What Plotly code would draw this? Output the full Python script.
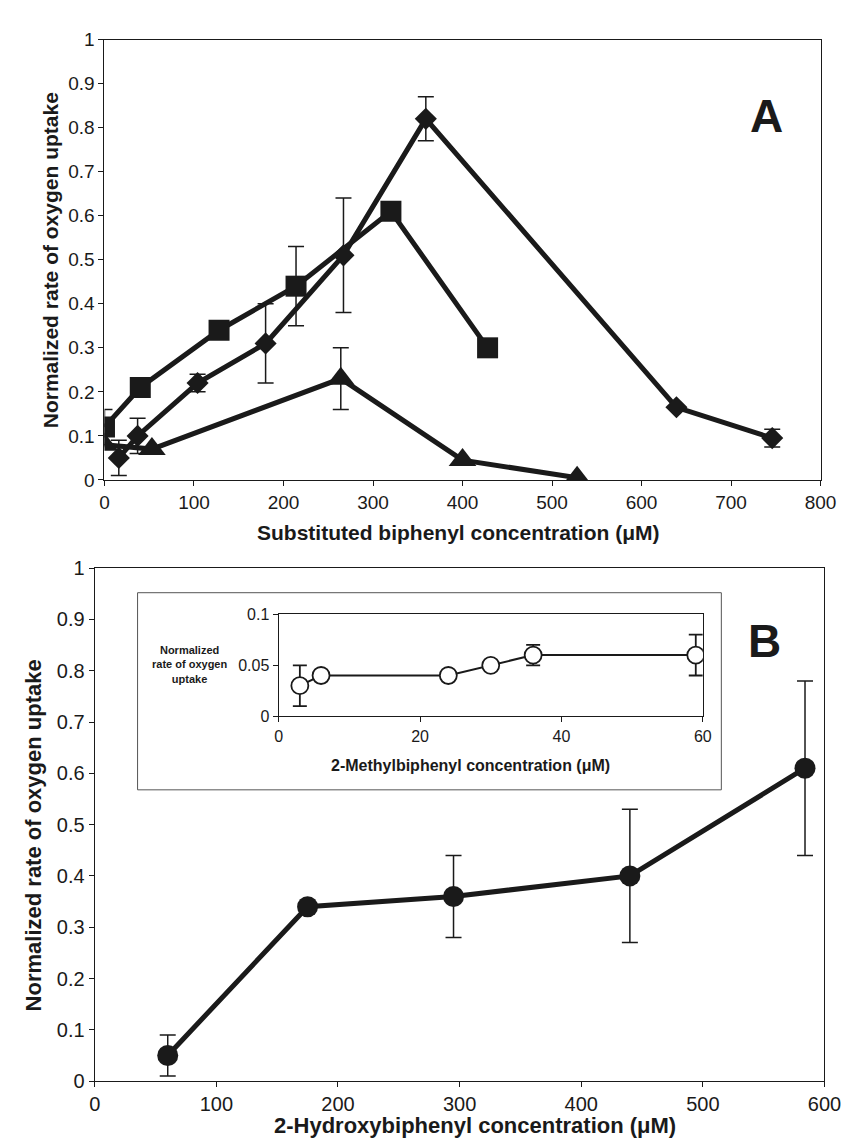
import plotly.graph_objects as go

# ---------------- Panel A data ----------------
sq_x = [0, 40, 128, 214, 320, 428]
sq_y = [0.12, 0.21, 0.34, 0.44, 0.61, 0.30]
sq_err = [0.04, None, None, 0.09, None, None]

di_x = [16, 37, 104, 180, 267, 359, 639, 746]
di_y = [0.05, 0.10, 0.22, 0.31, 0.51, 0.82, 0.165, 0.095]
di_err = [0.04, 0.04, 0.02, 0.09, 0.13, 0.05, None, 0.02]

tr_x = [0, 53, 264, 400, 528]
tr_y = [0.08, 0.07, 0.23, 0.045, 0.005]
tr_err = [None, None, 0.07, None, None]

a_xticks = [0, 100, 200, 300, 400, 500, 600, 700, 800]
a_yticks = [0, 0.1, 0.2, 0.3, 0.4, 0.5, 0.6, 0.7, 0.8, 0.9, 1]
a_ylabels = ["0", "0.1", "0.2", "0.3", "0.4", "0.5", "0.6", "0.7", "0.8", "0.9", "1"]

# ---------------- Panel B data ----------------
hb_x = [60, 175, 295, 440, 584]
hb_y = [0.05, 0.34, 0.36, 0.40, 0.61]
hb_err = [0.04, None, 0.08, 0.13, 0.17]

b_xticks = [0, 100, 200, 300, 400, 500, 600]

# ---------------- Inset data ----------------
mb_x = [3, 6, 24, 30, 36, 59]
mb_y = [0.03, 0.04, 0.04, 0.05, 0.06, 0.06]
mb_err = [0.02, None, None, None, 0.01, 0.02]

in_xticks = [0, 20, 40, 60]
in_yticks = [0, 0.05, 0.1]
in_ylabels = ["0", "0.05", "0.1"]

W, H = 850, 1140
def px(x):
    return x / W
def py(y):
    return 1 - y / H

FONT = "Liberation Sans, Arial, sans-serif"
BLK = "#1a1a1a"

fig = go.Figure()

def err(arr, w=8, th=1.5):
    return dict(type="data", array=arr, visible=True, color=BLK, thickness=th, width=w)

# Panel A traces
fig.add_trace(go.Scatter(x=sq_x, y=sq_y, mode="lines+markers", xaxis="x", yaxis="y",
                         line=dict(color=BLK, width=5),
                         marker=dict(symbol="square", size=21, color=BLK),
                         error_y=err(sq_err), showlegend=False))
fig.add_trace(go.Scatter(x=di_x, y=di_y, mode="lines+markers", xaxis="x", yaxis="y",
                         line=dict(color=BLK, width=5),
                         marker=dict(symbol="diamond", size=17, color=BLK),
                         error_y=err(di_err), showlegend=False))
fig.add_trace(go.Scatter(x=tr_x, y=tr_y, mode="lines+markers", xaxis="x", yaxis="y",
                         line=dict(color=BLK, width=5),
                         marker=dict(symbol="triangle-up", size=24, color=BLK),
                         error_y=err(tr_err), showlegend=False))

# Panel B trace
fig.add_trace(go.Scatter(x=hb_x, y=hb_y, mode="lines+markers", xaxis="x2", yaxis="y2",
                         line=dict(color=BLK, width=5),
                         marker=dict(symbol="circle", size=21, color=BLK),
                         error_y=err(hb_err), showlegend=False))

# Inset trace
fig.add_trace(go.Scatter(x=mb_x, y=mb_y, mode="lines+markers", xaxis="x3", yaxis="y3",
                         line=dict(color=BLK, width=2),
                         marker=dict(symbol="circle", size=17, color="white",
                                     line=dict(color=BLK, width=1.8)),
                         error_y=err(mb_err, w=7, th=1.8), showlegend=False))

axis_common = dict(showgrid=False, zeroline=False, showline=True, mirror=True,
                   linecolor=BLK, linewidth=1.2, ticks="outside", ticklen=5,
                   tickcolor=BLK, tickwidth=1)

fig.update_layout(
    width=W, height=H,
    margin=dict(l=0, r=0, t=0, b=0),
    paper_bgcolor="white", plot_bgcolor="rgba(0,0,0,0)",
    font=dict(family=FONT, color=BLK),
    xaxis=dict(domain=[px(93), px(829)], range=[0, 800], tickvals=a_xticks,
               anchor="y", tickfont=dict(size=19), **axis_common),
    yaxis=dict(domain=[py(470), py(21)], range=[0, 1], tickvals=a_yticks,
               ticktext=a_ylabels, anchor="x", tickfont=dict(size=19), **axis_common),
    xaxis2=dict(domain=[px(83), px(833)], range=[0, 600], tickvals=b_xticks,
                anchor="y2", tickfont=dict(size=20), **axis_common),
    yaxis2=dict(domain=[py(1083), py(560)], range=[0, 1], tickvals=a_yticks,
                ticktext=a_ylabels, anchor="x2", tickfont=dict(size=20), **axis_common),
    xaxis3=dict(domain=[px(272), px(708)], range=[0, 60], tickvals=in_xticks,
                anchor="y3", tickfont=dict(size=16), **axis_common),
    yaxis3=dict(domain=[py(711), py(607)], range=[0, 0.1], tickvals=in_yticks,
                ticktext=in_ylabels, anchor="x3", tickfont=dict(size=16), **axis_common),
)

# Inset box
fig.add_shape(type="rect", xref="paper", yref="paper",
              x0=px(127), x1=px(727), y0=py(786), y1=py(585),
              line=dict(color="#555", width=1), fillcolor="white", layer="below")

ann = []
# Panel A titles
ann.append(dict(text="<b>Substituted biphenyl concentration (μM)</b>", x=px(457), y=py(524),
                font=dict(size=21)))
ann.append(dict(text="<b>Normalized rate of oxygen uptake</b>", x=px(37), y=py(246),
                textangle=-90, font=dict(size=21)))
ann.append(dict(text="<b>A</b>", x=px(773), y=py(99), font=dict(size=46)))
# Panel B titles
ann.append(dict(text="<b>2-Hydroxybiphenyl concentration (μM)</b>", x=px(474), y=py(1128),
                font=dict(size=22)))
ann.append(dict(text="<b>Normalized rate of oxygen uptake</b>", x=px(21), y=py(832),
                textangle=-90, font=dict(size=22)))
ann.append(dict(text="<b>B</b>", x=px(771), y=py(634), font=dict(size=46)))
# Inset titles
ann.append(dict(text="<b>2-Methylbiphenyl concentration (μM)</b>", x=px(469), y=py(761),
                font=dict(size=16)))
ann.append(dict(text="<b>Normalized<br>rate of oxygen<br>uptake</b>", x=px(180), y=py(658),
                font=dict(size=11)))

for a in ann:
    a.update(xref="paper", yref="paper", showarrow=False, xanchor="center", yanchor="middle")
    a["font"].update(family=FONT, color=BLK)
fig.update_layout(annotations=ann)

fig.write_html("out.html")
